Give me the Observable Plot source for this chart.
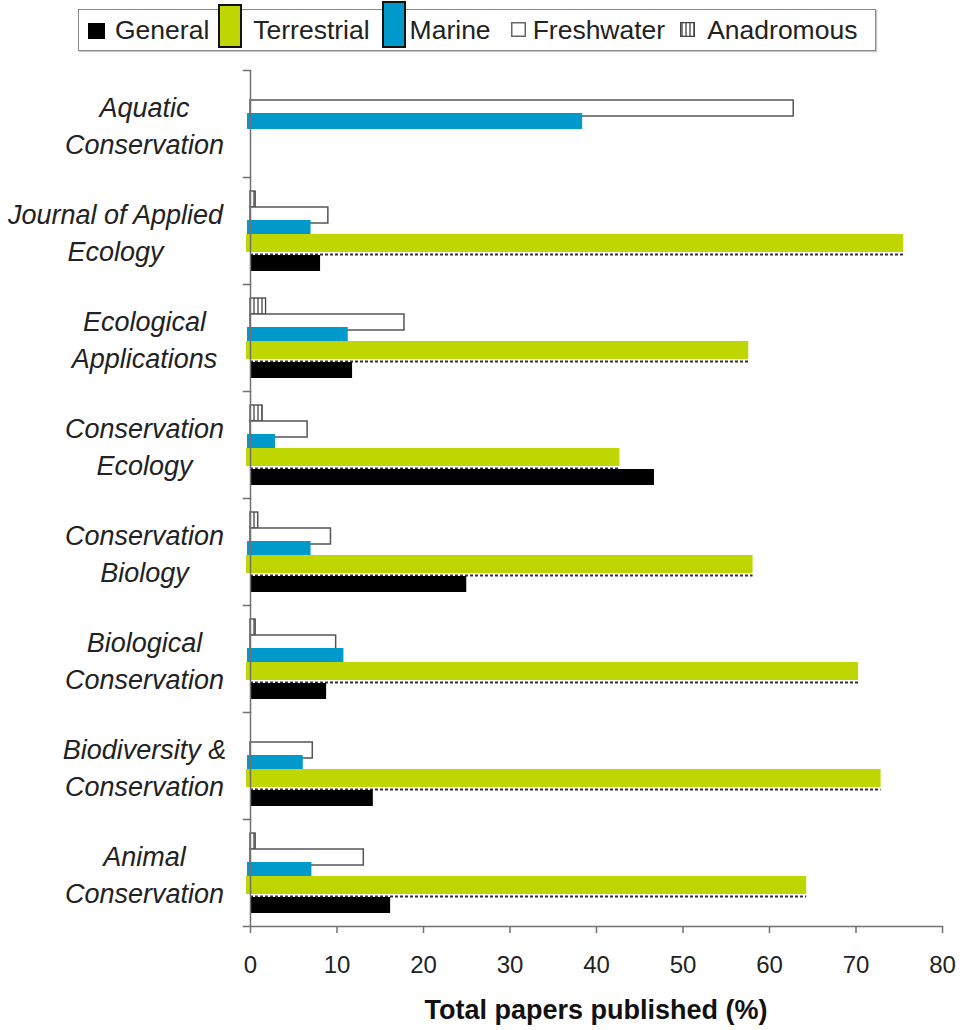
<!DOCTYPE html>
<html>
<head>
<meta charset="utf-8">
<script src="https://cdn.jsdelivr.net/npm/d3@7"></script>
<script src="https://cdn.jsdelivr.net/npm/@observablehq/plot@0.6"></script>
<style>
  body { margin: 0; background: #fff; font-family: "Liberation Sans", Arial, sans-serif; }
  #legend { position: relative; height: 60px; width: 963px; }
  #legend .box { position: absolute; left: 78px; top: 9px; width: 798px; height: 42px; border: 1.5px solid #8a8a8a; box-sizing: border-box; box-shadow: 1px 1px 1px #c8c8c8; }
  #legend .items { position: absolute; left: 0; top: 0; display: flex; align-items: flex-start; font-size: 26.5px; color: #222; }
  #legend .items span.t { line-height: 30px; margin-top: 15px; white-space: nowrap; }
  #legend svg { display: block; overflow: visible; }
  #xtitle { width: 692px; margin-left: 250px; text-align: center; font-weight: bold; font-size: 27px; line-height: 40px; color: #111; }
</style>
</head>
<body>
<div id="legend"><div class="box"></div><div class="items"></div></div>
<div id="chart"></div>
<div id="xtitle">Total papers published (%)</div>
<script>
// ---- data ----
const journals = [
  "Aquatic Conservation",
  "Journal of Applied Ecology",
  "Ecological Applications",
  "Conservation Ecology",
  "Conservation Biology",
  "Biological Conservation",
  "Biodiversity & Conservation",
  "Animal Conservation"
];
const journalLabels = [
  "Aquatic\nConservation",
  "Journal of Applied\nEcology",
  "Ecological\nApplications",
  "Conservation\nEcology",
  "Conservation\nBiology",
  "Biological\nConservation",
  "Biodiversity &\nConservation",
  "Animal\nConservation"
];
const series = ["General", "Terrestrial", "Marine", "Freshwater", "Anadromous"];
const general     = [0,    8.1, 11.8, 46.7, 25.0,  8.8, 14.2, 16.2];
const terrestrial = [0,   75.5, 57.6, 42.7, 58.1, 70.3, 72.9, 64.3];
const marine      = [38.4, 7.0, 11.3,  2.9,  7.0, 10.8,  6.1,  7.1];
const freshwater  = [62.8, 9.0, 17.8,  6.6,  9.3,  9.9,  7.2, 13.1];
const anadromous  = [0,    0.6,  1.8,  1.4,  0.9,  0.6,  0,    0.6];
const xTicks = [0, 10, 20, 30, 40, 50, 60, 70, 80];

// ---- build tables ----
const valuesBySeries = {General: general, Terrestrial: terrestrial, Marine: marine, Freshwater: freshwater, Anadromous: anadromous};
const rows = series.flatMap(s => journals.map((j, i) => ({journal: j, series: s, value: valuesBySeries[s][i]})));
const sel = s => rows.filter(d => d.series === s && d.value > 0);
const labelRows = journals.map((j, i) => ({journal: j, label: journalLabels[i], idx: i}));

// ---- legend ----
const swatch = {
  General:     {w: 17, h: 16, top: 23, fill: "#000",    stroke: "#000", sw: 0,   ml: 88, gap: 10},
  Terrestrial: {w: 24, h: 44, top: 4,  fill: "#bfd600", stroke: "#111", sw: 2,   ml: 9,  gap: 11},
  Marine:      {w: 24, h: 47, top: 1,  fill: "#0099cc", stroke: "#111", sw: 2,   ml: 12, gap: 4},
  Freshwater:  {w: 15, h: 15, top: 22, fill: "#fff",    stroke: "#666", sw: 1.5, ml: 20, gap: 7},
  Anadromous:  {w: 15, h: 15, top: 22, fill: "url(#stripesL)", stroke: "#444", sw: 1.3, ml: 15, gap: 12}
};
const items = d3.select("#legend .items");
series.forEach(s => {
  const st = swatch[s];
  const sv = items.append("svg").attr("width", st.w).attr("height", st.h)
    .style("margin-left", st.ml + "px").style("margin-top", st.top + "px").style("margin-right", st.gap + "px");
  if (s === "Anadromous") {
    const p = sv.append("defs").append("pattern").attr("id", "stripesL").attr("width", 4).attr("height", 4).attr("patternUnits", "userSpaceOnUse");
    p.append("rect").attr("width", 4).attr("height", 4).attr("fill", "#fff");
    p.append("line").attr("x1", 2).attr("x2", 2).attr("y1", 0).attr("y2", 4).attr("stroke", "#333").attr("stroke-width", 1.2);
  }
  sv.append("rect").attr("x", st.sw / 2).attr("y", st.sw / 2)
    .attr("width", st.w - st.sw).attr("height", st.h - st.sw)
    .attr("fill", st.fill).attr("stroke", st.sw ? st.stroke : "none").attr("stroke-width", st.sw);
  items.append("span").attr("class", "t").text(s);
});

// ---- chart ----
const axisColor = "#707070";
const labelOpts = {fy: "journal", text: "label", frameAnchor: "left", textAnchor: "middle", fontSize: 27,
  fontStyle: "italic", lineHeight: 1.35, fill: "#222"};

const chart = Plot.plot({
  width: 963,
  height: 930,
  marginTop: 8,
  marginBottom: 62,
  marginLeft: 250,
  marginRight: 21,
  style: {fontFamily: "'Liberation Sans', Arial, sans-serif", background: "white", color: "#222"},
  x: {domain: [0, 80], axis: null},
  y: {domain: [...series].reverse(), paddingInner: 0, paddingOuter: 0.68, axis: null},
  fy: {domain: journals, padding: 0, axis: null},
  marks: [
    Plot.barX(sel("Anadromous"), {fy: "journal", y: "series", x: "value", fill: "url(#stripes)", stroke: "#444", strokeWidth: 1.3}),
    Plot.barX(sel("Freshwater"), {fy: "journal", y: "series", x: "value", fill: "white", stroke: "#555", strokeWidth: 1.5}),
    Plot.barX(sel("Marine"), {fy: "journal", y: "series", x: "value", fill: "#0099cc", insetTop: -3, insetBottom: 3, insetLeft: -3}),
    Plot.ruleY(sel("Terrestrial"), {fy: "journal", y: "series", x1: 0, x2: "value", dy: 7, stroke: "#333", strokeWidth: 2, strokeDasharray: "3 2"}),
    Plot.barX(sel("Terrestrial"), {fy: "journal", y: "series", x: "value", fill: "#bfd600", insetTop: -5, insetBottom: 3, insetLeft: -4}),
    Plot.barX(sel("General"), {fy: "journal", y: "series", x: "value", fill: "#000"}),
    Plot.ruleX([0], {stroke: axisColor, strokeWidth: 1.5}),
    Plot.frame({anchor: "top", insetLeft: -7, insetRight: 692, stroke: axisColor, strokeWidth: 1.5}),
    Plot.frame({anchor: "bottom", facetAnchor: "bottom", insetLeft: -7, stroke: axisColor, strokeWidth: 1.5}),
    Plot.axisX(xTicks, {tickSize: 7, tickPadding: 22, fontSize: 24, label: null, stroke: axisColor, fill: "#222", strokeWidth: 1.5}),
    Plot.text(labelRows.filter(d => d.idx !== 1), {...labelOpts, dx: -106}),
    Plot.text(labelRows.filter(d => d.idx === 1), {...labelOpts, dx: -135})
  ]
});
document.getElementById("chart").appendChild(chart);

// stripe pattern for Anadromous bars
const svg = chart.tagName.toLowerCase() === "svg" ? chart : chart.querySelector("svg");
const pat = d3.select(svg).insert("defs", ":first-child").append("pattern")
  .attr("id", "stripes").attr("width", 4).attr("height", 4).attr("patternUnits", "userSpaceOnUse");
pat.append("rect").attr("width", 4).attr("height", 4).attr("fill", "#fff");
pat.append("line").attr("x1", 2).attr("x2", 2).attr("y1", 0).attr("y2", 4).attr("stroke", "#333").attr("stroke-width", 1.2);
</script>
</body>
</html>
